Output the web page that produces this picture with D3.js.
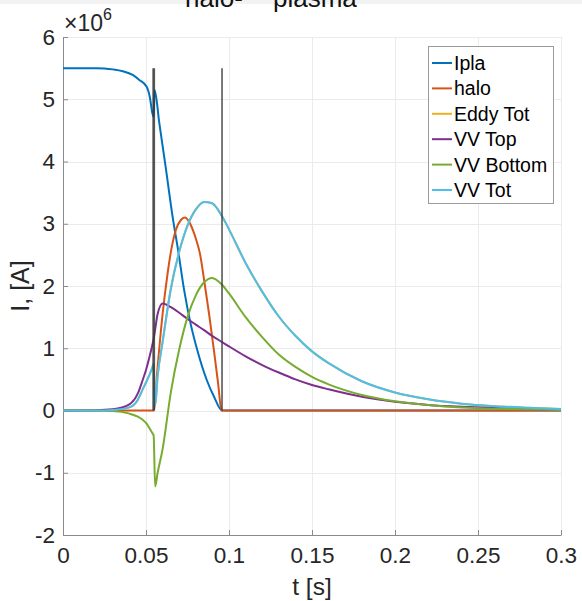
<!DOCTYPE html>
<html>
<head>
<meta charset="utf-8">
<script src="https://cdn.jsdelivr.net/npm/d3@7"></script>
<style>
  html, body { margin: 0; padding: 0; background: #fff; }
  svg { display: block; }
  text { font-family: "Liberation Sans", Arial, sans-serif; }
</style>
</head>
<body>
<svg id="chart" width="582" height="601"></svg>
<script>
// ---------- data (values in units of 1e6 A) ----------
const xTicks = [0, 0.05, 0.1, 0.15, 0.2, 0.25, 0.3];
const xTickLabels = ["0", "0.05", "0.1", "0.15", "0.2", "0.25", "0.3"];
const yTicks = [-2, -1, 0, 1, 2, 3, 4, 5, 6];
const yTickLabels = ["-2", "-1", "0", "1", "2", "3", "4", "5", "6"];

const seriesNames = ["Ipla", "halo", "Eddy Tot", "VV Top", "VV Bottom", "VV Tot"];
const seriesColors = ["#0072BD", "#D95319", "#EDB120", "#7E2F8E", "#77AC30", "#4DBEEE"];

const tIpla = [0, 0.02, 0.025, 0.03, 0.036, 0.042, 0.046, 0.0504, 0.0524, 0.0538, 0.0546, 0.0552, 0.058, 0.062, 0.066, 0.0693, 0.073, 0.077, 0.081, 0.0866, 0.091, 0.0958, 0.3];
const vIpla = [5.5, 5.5, 5.495, 5.48, 5.45, 5.39, 5.31, 5.2, 5.02, 4.78, 4.72, 5.15, 4.62, 3.88, 3.12, 2.58, 1.93, 1.38, 0.96, 0.49, 0.22, 0, 0];

const tHalo = [0, 0.0548, 0.057, 0.060, 0.063, 0.0652, 0.068, 0.071, 0.0735, 0.076, 0.0785, 0.0805, 0.0825, 0.085, 0.088, 0.091, 0.0935, 0.0955, 0.3];
const vHalo = [0, 0, 0.7, 1.55, 2.2, 2.58, 2.9, 3.06, 3.10, 3.03, 2.88, 2.72, 2.52, 2.1, 1.55, 0.95, 0.42, 0, 0];

const tVV = [0, 0.02, 0.03, 0.04, 0.045, 0.048, 0.05, 0.052, 0.0538, 0.0546, 0.0555, 0.057, 0.060, 0.065, 0.070, 0.075, 0.080, 0.085, 0.0898, 0.0958, 0.10, 0.11, 0.12, 0.13, 0.14, 0.15, 0.16, 0.18, 0.20, 0.22, 0.24, 0.26, 0.28, 0.30];
const vVVTop = [0, 0.005, 0.02, 0.1, 0.27, 0.49, 0.65, 0.85, 1.05, 1.15, 1.3, 1.55, 1.72, 1.66, 1.57, 1.47, 1.38, 1.29, 1.2, 1.1, 1.03, 0.87, 0.73, 0.61, 0.5, 0.41, 0.34, 0.22, 0.14, 0.09, 0.06, 0.04, 0.025, 0.015];
const vVVBottom = [0, -0.005, -0.01, -0.05, -0.1, -0.15, -0.2, -0.28, -0.36, -0.4, -1.22, -1.0, -0.62, 0.3, 0.98, 1.5, 1.85, 2.06, 2.13, 2.02, 1.88, 1.5, 1.18, 0.9, 0.7, 0.54, 0.42, 0.25, 0.15, 0.09, 0.05, 0.03, 0.02, 0.01];
const vVVTot = [0, 0.0, 0.01, 0.05, 0.17, 0.34, 0.45, 0.57, 0.69, 0.75, 0.08, 0.55, 1.1, 1.96, 2.55, 2.97, 3.23, 3.35, 3.33, 3.12, 2.91, 2.37, 1.91, 1.51, 1.2, 0.95, 0.76, 0.47, 0.29, 0.18, 0.11, 0.07, 0.045, 0.025];
const vEddyTot = [0, 0.0, 0.01, 0.05, 0.17, 0.34, 0.45, 0.57, 0.69, 0.75, 0.08, 0.55, 1.1, 1.96, 2.55, 2.97, 3.23, 3.35, 3.33, 3.12, 2.91, 2.37, 1.91, 1.51, 1.2, 0.95, 0.76, 0.47, 0.29, 0.18, 0.11, 0.07, 0.045, 0.025];

const markerTimes = [0.0543, 0.0550, 0.0958];
const markerTop = 5.5;

// ---------- layout ----------
const svg = d3.select("#chart");
const mLeft = 63, mRight = 561, mTop = 37, mBottom = 535;

const x = d3.scaleLinear().domain([0, 0.3]).range([mLeft, mRight]);
const y = d3.scaleLinear().domain([-2, 6]).range([mBottom, mTop]);

// faint band at top
svg.append("rect").attr("x", 0).attr("y", 0).attr("width", 582).attr("height", 4).attr("fill", "#f2f2f2");

// clipped title remnant (cut off at the top edge, as in the reference)
svg.append("text").attr("x", 185).attr("y", 7).attr("font-family", "'Open Sans', sans-serif")
  .attr("font-size", 26).attr("fill", "#111").text("halo-");
svg.append("text").attr("x", 273).attr("y", 7).attr("font-family", "'Open Sans', sans-serif")
  .attr("font-size", 26).attr("fill", "#111").text("plasma");

// grid
const grid = svg.append("g").attr("stroke", "#ebebeb").attr("stroke-width", 1);
grid.selectAll("line.gx").data(xTicks).join("line")
  .attr("x1", d => Math.round(x(d)) + 0.5).attr("x2", d => Math.round(x(d)) + 0.5)
  .attr("y1", mTop).attr("y2", mBottom);
grid.selectAll("line.gy").data(yTicks).join("line")
  .attr("x1", mLeft).attr("x2", mRight)
  .attr("y1", d => Math.round(y(d)) + 0.5).attr("y2", d => Math.round(y(d)) + 0.5);

// axes
const xAxis = d3.axisBottom(x).tickValues(xTicks).tickFormat((d, i) => xTickLabels[i]).tickSizeInner(-5).tickSizeOuter(0).tickPadding(12);
const yAxis = d3.axisLeft(y).tickValues(yTicks).tickFormat((d, i) => yTickLabels[i]).tickSizeInner(-5).tickSizeOuter(0).tickPadding(8);

const gx = svg.append("g").attr("transform", `translate(0,${mBottom})`).call(xAxis);
const gy = svg.append("g").attr("transform", `translate(${mLeft},0)`).call(yAxis);
[gx, gy].forEach(g => {
  g.select(".domain").attr("stroke", "#8a8a8a");
  g.selectAll(".tick line").attr("stroke", "#8a8a8a");
  g.selectAll(".tick text").attr("font-size", 22.5).attr("fill", "#262626")
    .attr("font-family", "'Liberation Sans', Arial, sans-serif");
});

// exponent label
const ex = svg.append("text").attr("x", 64).attr("y", 31).attr("font-size", 23).attr("fill", "#262626");
ex.append("tspan").text("\u00d710");
ex.append("tspan").attr("dy", -11).attr("font-size", 16).text("6");

// axis titles
svg.append("text").attr("x", (mLeft + mRight) / 2).attr("y", 595).attr("text-anchor", "middle")
  .attr("font-size", 24.5).attr("fill", "#262626").text("t [s]");
svg.append("text").attr("transform", `translate(29,${(mTop + mBottom) / 2}) rotate(-90)`).attr("text-anchor", "middle")
  .attr("font-size", 25).attr("fill", "#262626").text("I, [A]");

// series
const series = [
  { t: tIpla, v: vIpla },
  { t: tHalo, v: vHalo },
  { t: tVV, v: vEddyTot },
  { t: tVV, v: vVVTop },
  { t: tVV, v: vVVBottom },
  { t: tVV, v: vVVTot }
];
const line = d3.line().x(d => x(d[0])).y(d => y(d[1])).curve(d3.curveMonotoneX);
const gs = svg.append("g").attr("fill", "none").attr("stroke-width", 2).attr("stroke-linejoin", "round");
series.forEach((s, i) => {
  gs.append("path").attr("d", line(d3.zip(s.t, s.v))).attr("stroke", seriesColors[i]);
});

// vertical markers
svg.append("g").selectAll("line").data(markerTimes).join("line")
  .attr("x1", d => x(d)).attr("x2", d => x(d))
  .attr("y1", y(markerTop)).attr("y2", y(0))
  .attr("stroke", "#3a3a3a").attr("stroke-opacity", 0.85).attr("stroke-width", 1.6);

// legend
const lg = svg.append("g");
lg.append("rect").attr("x", 428.5).attr("y", 46.5).attr("width", 125).attr("height", 157)
  .attr("fill", "#fff").attr("stroke", "#9a9a9a").attr("stroke-width", 1);
seriesNames.forEach((name, i) => {
  const yy = 63 + i * 25.4;
  lg.append("line").attr("x1", 432).attr("x2", 452).attr("y1", yy).attr("y2", yy)
    .attr("stroke", seriesColors[i]).attr("stroke-width", 2);
  lg.append("text").attr("x", 454).attr("y", yy + 7).attr("font-size", 19.5).attr("fill", "#000").text(name);
});
</script>
</body>
</html>
